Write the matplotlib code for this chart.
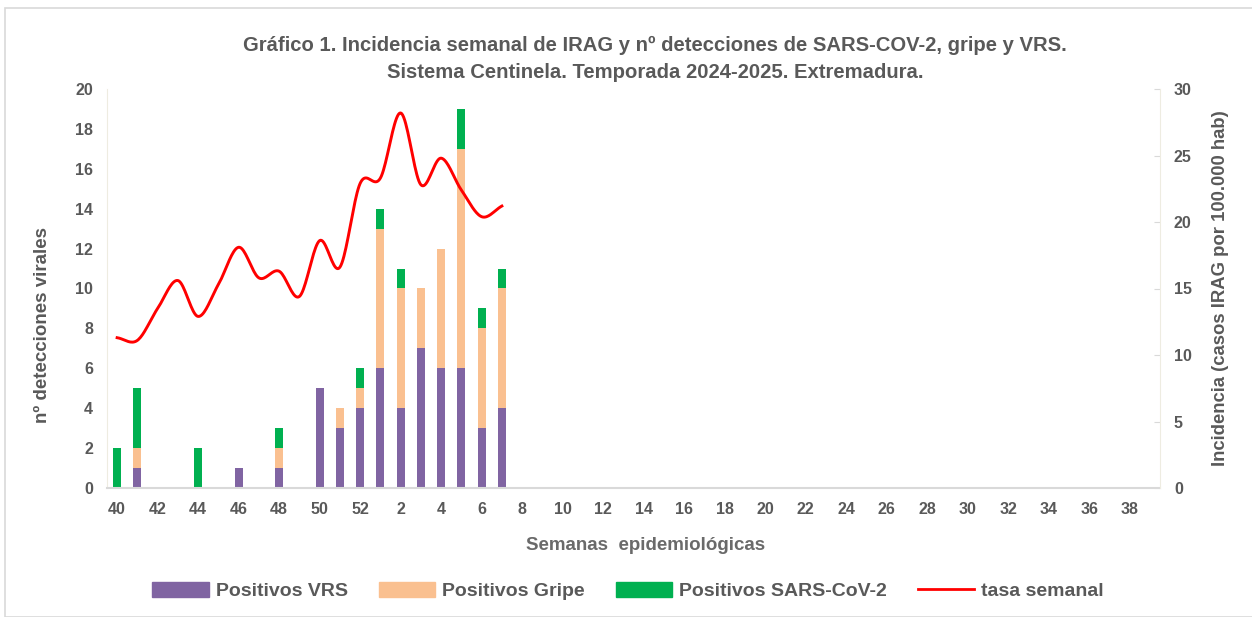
import numpy as np
import matplotlib
matplotlib.use("Agg")
import matplotlib.pyplot as plt
from matplotlib.patches import Patch, Rectangle
from matplotlib.lines import Line2D

plt.rcParams['font.family'] = ['Liberation Sans', 'DejaVu Sans']

# ---- data ----
weeks = list(range(40, 53)) + list(range(1, 40))
vrs   = [0, 1, 0, 0, 0, 0, 1, 0, 1, 0, 5, 3, 4, 6, 4, 7, 6, 6, 3, 4]
gripe = [0, 1, 0, 0, 0, 0, 0, 0, 1, 0, 0, 1, 1, 7, 6, 3, 6, 11, 5, 6]
sars  = [2, 3, 0, 0, 2, 0, 0, 0, 1, 0, 0, 0, 1, 1, 1, 0, 0, 2, 1, 1]
tasa  = [11.3, 11.1, 13.5, 15.6, 12.9, 15.3, 18.1, 15.8, 16.3, 14.4,
         18.6, 16.6, 22.9, 23.3, 28.2, 22.8, 24.8, 22.4, 20.4, 21.2]
tick_labels = [str(w) if i % 2 == 0 else '' for i, w in enumerate(weeks)]

c_vrs, c_gripe, c_sars, c_line = '#8064A2', '#FAC090', '#00B050', '#FF0000'
txt = '#595959'

def catmull_rom(x, y, n=20):
    x = np.asarray(x, float); y = np.asarray(y, float)
    px = np.concatenate([[2*x[0]-x[1]], x, [2*x[-1]-x[-2]]])
    py = np.concatenate([[2*y[0]-y[1]], y, [2*y[-1]-y[-2]]])
    xs, ys = [], []
    t = np.linspace(0, 1, n, endpoint=False)
    for i in range(1, len(px)-2):
        p0, p1, p2, p3 = [np.array([px[j], py[j]]) for j in (i-1, i, i+1, i+2)]
        c1 = p1 + (p2 - p0) / 6
        c2 = p2 - (p3 - p1) / 6
        for tt in t:
            b = ((1-tt)**3)*p1 + 3*((1-tt)**2)*tt*c1 + 3*(1-tt)*tt**2*c2 + tt**3*p2
            xs.append(b[0]); ys.append(b[1])
    xs.append(x[-1]); ys.append(y[-1])
    return np.array(xs), np.array(ys)

fig = plt.figure(figsize=(12.52, 6.17), dpi=100)
fig.patches.append(Rectangle((5/1252, 0), 1.2, (617-8)/617, transform=fig.transFigure,
                             fill=False, edgecolor='#D9D9D9', lw=1.2))

ax = fig.add_axes([107/1252, 1-488/617, (1160-107)/1252, (488-89)/617])
n = len(weeks)
idx = np.arange(len(vrs))
w = 0.4
ax.bar(idx, vrs, w, color=c_vrs, zorder=2)
ax.bar(idx, gripe, w, bottom=vrs, color=c_gripe, zorder=2)
ax.bar(idx, sars, w, bottom=np.array(vrs)+np.array(gripe), color=c_sars, zorder=2)

ax.set_xlim(-0.5, n-0.5)
ax.set_ylim(0, 20)
ax.set_yticks(range(0, 21, 2))
ax.set_xticks(range(n))
ax.set_xticklabels(tick_labels)
ax.tick_params(axis='x', length=0, pad=10, labelsize=11.5, labelcolor=txt)
ax.tick_params(axis='y', length=0, pad=10, labelsize=11.5, labelcolor=txt)
for lab in ax.get_xticklabels() + ax.get_yticklabels():
    lab.set_fontweight('bold')
for s in ['top', 'right']:
    ax.spines[s].set_visible(False)
ax.spines['left'].set_color('#EEECE1')
ax.spines['bottom'].set_color('#D9D9D9')
ax.spines['bottom'].set_linewidth(1.5)
ax.set_ylabel('nº detecciones virales', fontsize=13.5, fontweight='bold', color=txt)
ax.yaxis.set_label_coords((51-107)/1053, (488-325)/399)

ax2 = ax.twinx()
sx, sy = catmull_rom(idx, tasa)
ax2.plot(sx, sy, color=c_line, lw=2.1, zorder=3)
ax2.set_ylim(0, 30)
ax2.set_yticks(range(0, 31, 5))
ax2.tick_params(axis='y', direction='in', length=4, color='#D9D9D9', pad=10,
                labelsize=11.5, labelcolor=txt)
for lab in ax2.get_yticklabels():
    lab.set_fontweight('bold')
for s in ['top', 'left', 'bottom']:
    ax2.spines[s].set_visible(False)
ax2.spines['right'].set_color('#EEECE1')
ax2.set_ylabel('Incidencia (casos IRAG por 100.000 hab)', fontsize=13.3, fontweight='bold',
               color=txt)
ax2.yaxis.set_label_coords((1212-107)/1053, 0.5)

fig.text(655/1252, 1-45/617, 'Gráfico 1. Incidencia semanal de IRAG y nº detecciones de SARS-COV-2, gripe y VRS.',
         ha='center', va='center', fontsize=14.6, fontweight='bold', color=txt)
fig.text(655/1252, 1-73/617, 'Sistema Centinela. Temporada 2024-2025. Extremadura.',
         ha='center', va='center', fontsize=14.6, fontweight='bold', color=txt)

fig.text(646/1252, 1-545/617, 'Semanas  epidemiológicas', ha='center', va='center',
         fontsize=13.5, fontweight='bold', color='#6A6A6A')

handles = [Patch(color=c_vrs), Patch(color=c_gripe), Patch(color=c_sars),
           Line2D([], [], color=c_line, lw=2)]
labels = ['Positivos VRS', 'Positivos Gripe', 'Positivos SARS-CoV-2', 'tasa semanal']
leg = fig.legend(handles, labels, loc='center', bbox_to_anchor=(628/1252, 1-591/617), ncol=4,
                 frameon=False, handlelength=2.9, handleheight=0.85, columnspacing=1.6,
                 handletextpad=0.35, prop={'size': 14, 'weight': 'bold'})
for t in leg.get_texts():
    t.set_color(txt)

fig.savefig('out.png', dpi=100)
